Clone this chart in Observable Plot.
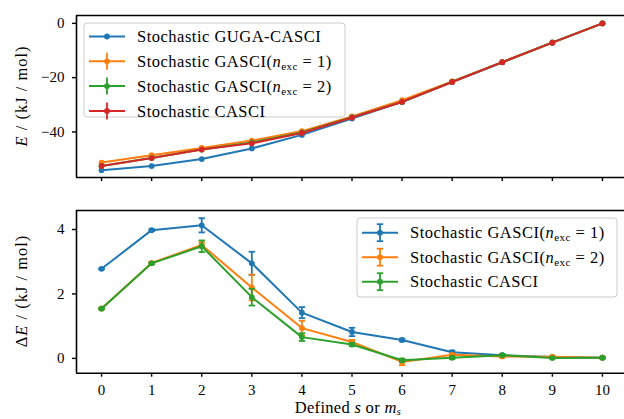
<!DOCTYPE html>
<html>
<head>
<meta charset="utf-8">
<script src="https://cdn.jsdelivr.net/npm/d3@7"></script>
<script src="https://cdn.jsdelivr.net/npm/@observablehq/plot@0.6"></script>
<style>
  body { margin: 0; background: #fff; }
  #chart { width: 624px; height: 419px; overflow: hidden; }
  #chart svg { display: block; overflow: hidden; }
</style>
</head>
<body>
<div id="chart"></div>
<script>
// Defined total spin s (or m_s)
const spins = [0, 1, 2, 3, 4, 5, 6, 7, 8, 9, 10];

// Upper panel: absolute energies E / (kJ/mol)
const eGugaCasci = [-54.1, -52.6, -50.0, -46.1, -41.1, -35.1, -28.9, -21.6, -14.4, -7.1, -0.02];
const eGasci1    = [-51.3, -48.6, -45.9, -43.2, -39.7, -34.3, -28.3, -21.4, -14.3, -7.1, 0.0];
const eGasci2    = [-52.55, -49.6, -46.5, -43.9, -40.2, -34.6, -29.0, -21.5, -14.3, -7.05, 0.0];
const eCasci     = [-52.55, -49.65, -46.5, -44.2, -40.4, -34.7, -28.95, -21.6, -14.3, -7.1, 0.0];

// Lower panel: differences to GUGA-CASCI, with stochastic error bars
const dGasci1    = [2.78, 3.98, 4.13, 2.95, 1.42, 0.82, 0.57, 0.19, 0.10, 0.04, 0.02];
const dGasci1Err = [0.02, 0.03, 0.22, 0.36, 0.17, 0.13, 0.04, 0.05, 0.03, 0.02, 0.02];
const dGasci2    = [1.55, 2.96, 3.52, 2.20, 0.94, 0.51, -0.11, 0.11, 0.06, 0.05, 0.02];
const dGasci2Err = [0.02, 0.03, 0.08, 0.40, 0.23, 0.06, 0.10, 0.04, 0.03, 0.02, 0.02];
const dCasci     = [1.54, 2.95, 3.48, 1.90, 0.66, 0.43, -0.06, 0.02, 0.10, 0.01, 0.02];
const dCasciErr  = [0.02, 0.03, 0.18, 0.26, 0.12, 0.05, 0.05, 0.04, 0.03, 0.02, 0.02];

const blue = "#1f77b4", orange = "#ff7f0e", green = "#2ca02c", red = "#d62728";
const serif = "'Liberation Serif', 'DejaVu Serif', serif";

const topSeries = [
  {name: "Stochastic GUGA-CASCI", values: eGugaCasci, color: blue, err: false},
  {name: ["Stochastic GASCI(", "1"], values: eGasci1, color: orange, err: true},
  {name: ["Stochastic GASCI(", "2"], values: eGasci2, color: green, err: true},
  {name: "Stochastic CASCI", values: eCasci, color: red, err: true}
];
const bottomSeries = [
  {name: ["Stochastic GASCI(", "1"], values: dGasci1, errs: dGasci1Err, color: blue},
  {name: ["Stochastic GASCI(", "2"], values: dGasci2, errs: dGasci2Err, color: orange},
  {name: "Stochastic CASCI", values: dCasci, errs: dCasciErr, color: green}
];

const rows = (s) => spins.map((x, i) => ({x, y: s.values[i], e: s.errs ? s.errs[i] : 0}));

// horizontal cap symbol for error bars
const capSymbol = {draw(ctx, size) { const w = Math.sqrt(size / Math.PI); ctx.moveTo(-w, 0); ctx.lineTo(w, 0); }};

const xDomain = [-0.5, 10.5];
const topY = [-56.8, 2.9];
const botY = [-0.46, 4.59];
const minus = (d) => d < 0 ? "\u2212" + Math.abs(d) : String(d);

function frame(yDom) {
  return [
    Plot.ruleY([yDom[0], yDom[1]], {stroke: "black", strokeWidth: 1.6}),
    Plot.ruleX([xDomain[0]], {stroke: "black", strokeWidth: 1.6})
  ];
}

function seriesMarks(s, withCaps) {
  const d = rows(s);
  const m = [];
  if (s.errs) {
    m.push(Plot.ruleX(d, {x: "x", y1: (r) => r.y - r.e, y2: (r) => r.y + r.e, stroke: s.color, strokeWidth: 1.8}));
    if (withCaps) {
      m.push(Plot.dot(d, {x: "x", y: (r) => r.y + r.e, symbol: capSymbol, r: 3.2, stroke: s.color, strokeWidth: 1.8, fill: "none"}));
      m.push(Plot.dot(d, {x: "x", y: (r) => r.y - r.e, symbol: capSymbol, r: 3.2, stroke: s.color, strokeWidth: 1.8, fill: "none"}));
    }
  }
  m.push(Plot.line(d, {x: "x", y: "y", stroke: s.color, strokeWidth: 2}));
  m.push(Plot.dot(d, {x: "x", y: "y", fill: s.color, r: 2.9}));
  return m;
}

const common = {
  width: 624,
  marginLeft: 76,
  marginRight: 0,
  style: {fontFamily: serif, fontSize: "15px", color: "black", background: "white"}
};

const topPlot = Plot.plot({
  ...common,
  height: 190,
  marginTop: 15,
  marginBottom: 13,
  x: {domain: xDomain, range: [76, 627]},
  y: {domain: topY},
  marks: [
    Plot.axisX({ticks: spins, tickFormat: () => "", tickSize: 4, strokeWidth: 1.4, label: null}),
    Plot.axisY({ticks: [0, -20, -40], tickFormat: minus, tickSize: 4, tickPadding: 8, strokeWidth: 1.4, label: null, fontSize: 15}),
    ...topSeries.flatMap((s) => seriesMarks(s, false)),
    ...frame(topY)
  ]
});

const bottomPlot = Plot.plot({
  ...common,
  height: 229,
  marginTop: 20,
  marginBottom: 46.3,
  x: {domain: xDomain, range: [76, 627]},
  y: {domain: botY},
  marks: [
    Plot.axisX({ticks: spins, tickFormat: (d) => String(d), tickSize: 4, tickPadding: 7.5, strokeWidth: 1.4, label: null, fontSize: 15}),
    Plot.axisY({ticks: [0, 2, 4], tickFormat: (d) => String(d), tickSize: 4, tickPadding: 8, strokeWidth: 1.4, label: null, fontSize: 15}),
    ...bottomSeries.flatMap((s) => seriesMarks(s, true)),
    ...frame(botY)
  ]
});

const root = document.getElementById("chart");
root.append(topPlot, bottomPlot);

// Legend text, with italic n and subscript "exc" for the GASCI entries
function writeLabel(text, name) {
  if (typeof name === "string") { text.text(name); return; }
  text.append("tspan").text(name[0]);
  text.append("tspan").attr("font-style", "italic").text("n");
  text.append("tspan").attr("font-size", "11px").attr("dy", 3).text("exc");
  text.append("tspan").attr("dy", -3).text(" = " + name[1] + ")");
}

function legend(svg, series, box, opts) {
  const g = d3.select(svg).append("g").attr("font-family", serif).attr("font-size", 16.5)
    .attr("text-anchor", "start").attr("letter-spacing", 0.5);
  g.append("rect").attr("x", box.x).attr("y", box.y).attr("width", box.w).attr("height", box.h)
    .attr("rx", 3).attr("fill", "white").attr("fill-opacity", 0.8).attr("stroke", "#cccccc").attr("stroke-width", 1);
  series.forEach((s, i) => {
    const cy = box.rowY + i * box.step;
    const row = g.append("g").attr("transform", `translate(0,${cy})`);
    const hasErr = opts.err(s);
    if (hasErr) {
      row.append("line").attr("x1", box.hx).attr("x2", box.hx).attr("y1", -8.5).attr("y2", 8.5)
        .attr("stroke", s.color).attr("stroke-width", 1.8);
      if (opts.caps) {
        for (const yy of [-8.5, 8.5]) row.append("line").attr("x1", box.hx - 3.2).attr("x2", box.hx + 3.2)
          .attr("y1", yy).attr("y2", yy).attr("stroke", s.color).attr("stroke-width", 1.8);
      }
    }
    row.append("line").attr("x1", box.hx - 18).attr("x2", box.hx + 18).attr("y1", 0).attr("y2", 0)
      .attr("stroke", s.color).attr("stroke-width", 2);
    row.append("circle").attr("cx", box.hx).attr("cy", 0).attr("r", 2.9).attr("fill", s.color);
    const t = row.append("text").attr("x", box.tx).attr("y", 0).attr("dy", "0.35em").attr("fill", "black");
    writeLabel(t, s.name);
  });
}

legend(topPlot, topSeries, {x: 84, y: 23, w: 261, h: 94, rowY: 36.5, step: 24.8, hx: 107, tx: 137},
  {err: (s) => s.err, caps: false});
legend(bottomPlot, bottomSeries, {x: 357, y: 28, w: 260, h: 79, rowY: 42.7, step: 24.5, hx: 380, tx: 410},
  {err: () => true, caps: true});

// Axis titles
function title(svg) {
  return d3.select(svg).append("text").attr("font-family", serif).attr("font-size", 16.5)
    .attr("letter-spacing", 1).attr("text-anchor", "middle").attr("fill", "black");
}
const topT = title(topPlot).attr("transform", "translate(27,96) rotate(-90)");
topT.append("tspan").attr("font-style", "italic").text("E");
topT.append("tspan").text(" / (kJ / mol)");

const botT = title(bottomPlot).attr("transform", "translate(27,101) rotate(-90)");
botT.append("tspan").text("\u0394");
botT.append("tspan").attr("font-style", "italic").text("E");
botT.append("tspan").text(" / (kJ / mol)");

const xT = title(bottomPlot).attr("letter-spacing", 0.3).attr("x", 348).attr("y", 222.5);
xT.append("tspan").text("Defined ");
xT.append("tspan").attr("font-style", "italic").text("s");
xT.append("tspan").text(" or ");
xT.append("tspan").attr("font-style", "italic").text("m");
xT.append("tspan").attr("font-style", "italic").attr("font-size", "11px").attr("dy", 2.5).text("s");
</script>
</body>
</html>
